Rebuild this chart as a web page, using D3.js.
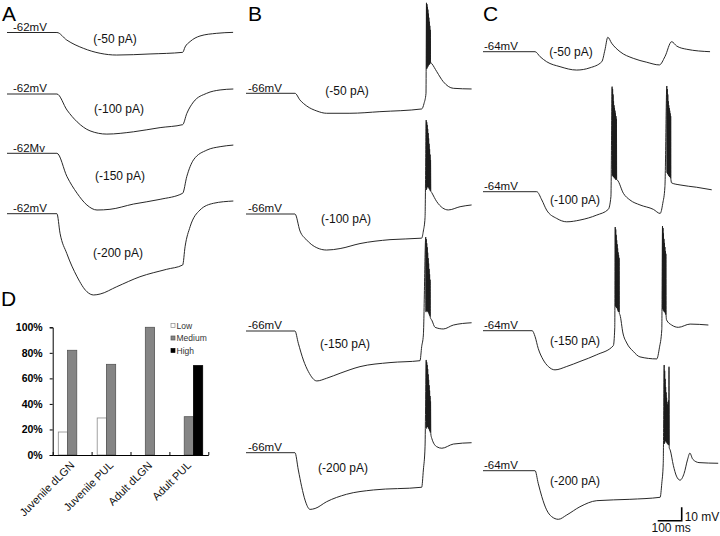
<!DOCTYPE html>
<html>
<head>
<meta charset="utf-8">
<script src="https://cdn.jsdelivr.net/npm/d3@7"></script>
<style>
  body { margin: 0; background: #fff; }
  svg { display: block; font-family: "Liberation Sans", Arial, sans-serif; }
  .trace { fill: none; stroke: #1c1c1c; stroke-width: 0.95; stroke-linejoin: round; }
  .lbl { font-size: 12px; fill: #111; }
  .letter { font-size: 21px; fill: #000; }
  .axis path, .axis line { stroke: #000; }
</style>
</head>
<body>
<svg id="fig" width="720" height="536"></svg>
<script>
// recordings, points are [time (ms), membrane potential (mV)]
// A: -62 mV cell
var a50 = [[0,-62],[208,-62],[249,-67.6],[318,-73.7],[388,-77.4],[457,-78.7],[596,-77.9],[732,-76.7],
  [742,-72.7],[763,-68.7],[804,-64.6],[874,-62.6],[942,-61.9]];
var a100 = [[0,-62],[208,-62],[250,-73.9],[292,-82.6],[346,-89.3],[416,-91.7],[527,-90],[638,-86.9],[732,-84.7],
  [749,-76.5],[777,-67.9],[832,-61.5],[888,-59],[943,-58.3]];
var a150 = [[0,-62],[208,-62],[250,-79.3],[292,-91.6],[333,-100.3],[375,-104],[429,-103.5],[527,-99.6],[638,-96.1],
  [732,-91.6],[749,-79.3],[777,-66.9],[833,-59.6],[888,-57.1],[943,-55.9]];
var a200 = [[0,-62],[208,-62],[221,-76.5],[249,-91.4],[292,-108.7],[333,-119.8],[361,-122.2],[388,-121.5],[457,-116.1],
  [554,-108.7],[665,-103.2],[732,-100],[742,-86.4],[763,-71.6],[804,-59.3],[860,-54.3],[943,-52.6]];

// B: -66 mV cell, rebound burst after the step
var b50 = [[0,-66],[204,-66],[225,-71],[253,-75.4],[295,-79.1],[336,-80.8],[433,-80.8],[558,-79.6],[732,-77.6],
  [742,-73.4],[750,-66],
  [752,1],[753,-48],[754,0],[755,-47],[756,-2],[757,-46],[758,-4],[759,-46],[760,-7],[761,-45],[762,-10],[763,-45],
  [764,-13],[765,-44],[766,-16],[767,-44],[768,-19],[769,-43],
  [774,-44],[795,-50],[822,-57.4],[864,-62.3],[940,-62.8]];
var b100 = [[0,-66],[204,-66],[225,-78.6],[253,-85.3],[295,-91],[336,-92.7],[392,-91.6],[475,-87.9],[600,-85],[732,-83.9],
  [739,-78.6],[746,-68.7],
  [751,3.6],[752,-48],[753,2],[754,-47],[755,0],[756,-46],[757,-3],[758,-46],[759,-6],[760,-46],[761,-10],[762,-47],
  [763,-14],[764,-47],[765,-18],[766,-48],[767,-22],[768,-49],[769,-26],[770,-49],
  [774,-50.2],[795,-56.9],[843,-63],[892,-60.6],[940,-59.3]];
var b150 = [[0,-66],[204,-66],[218,-75.1],[239,-87.5],[260,-96.1],[295,-103],[336,-101],[392,-97.3],[475,-92.4],[600,-89.4],
  [725,-88],[732,-77.6],[739,-69],
  [749,3.6],[750,-52],[751,2],[752,-51],[753,-1],[754,-51],[755,-4],[756,-51],[757,-8],[758,-52],[759,-12],[760,-52],
  [761,-16],[762,-53],[763,-20],[764,-54],[765,-24],[766,-55],[767,-28],[768,-56],
  [774,-57.9],[788,-63.3],[822,-64.5],[864,-61.6],[940,-59.9]];
var b200 = [[0,-66],[204,-66],[218,-78.8],[232,-91.2],[246,-101.1],[267,-108],[288,-107.3],[336,-102.3],[419,-96.8],[531,-93.6],
  [732,-91.6],[739,-78.8],[746,-61.6],
  [751,2.7],[752,-48],[753,1],[754,-47],[755,-1],[756,-47],[757,-4],[758,-47],[759,-8],[760,-48],[761,-12],[762,-48],
  [763,-16],[764,-49],[765,-20],[766,-50],[767,-24],[768,-51],[769,-28],[770,-52],
  [774,-55.3],[795,-61.6],[816,-62.7],[864,-59.6],[940,-58.6]];

// C: -64 mV cell, bursts during and after the step
var c50 = [[0,-64],[217,-64],[238,-67.7],[265,-71.4],[321,-75.1],[390,-77.6],[446,-75.9],[495,-71.4],[508,-62.8],[520,-53.3],
  [536,-57.7],[571,-64],[626,-68.9],[682,-71.8],[735,-73.8],[758,-67.7],[786,-56.6],[807,-59.8],[849,-62.2],[946,-64]];
var c100 = [[0,-64],[224,-64],[245,-70.1],[265,-77.6],[307,-83.8],[349,-86.3],[404,-85],[474,-81.3],[522,-77.1],[533,-67.7],
  [538,13.8],[539,-52],[540,12],[541,-52],[542,8],[543,-53],[544,3],[545,-53],[546,0],[547,-54],
  [548,-2],[549,-54],[550,-4],[551,-54],[552,-6],[553,-55],[554,-8],[555,-55],[556,-10],[557,-55],
  [560,-55.4],[585,-65.2],[612,-70.1],[654,-73.8],[710,-77.1],[738,-80.1],[749,-72.7],[758,-60.3],
  [766,14.3],[767,-50],[768,12],[769,-51],[770,8],[771,-51],[772,3],[773,-52],[774,0],[775,-52],
  [776,-2],[777,-53],[778,-4],[779,-53],[780,-6],[781,-54],[782,-8],[783,-55],
  [786,-57.5],[821,-59],[890,-60.7],[953,-62.6]];
var c150 = [[0,-64],[205,-64],[217,-68.4],[230,-77.1],[251,-85.6],[272,-90.5],[300,-93],[349,-90.5],[404,-86.8],[474,-81.8],
  [543,-75.1],[549,-62],
  [551,12.8],[552,-46],[553,11],[554,-46],[555,7],[556,-47],[557,3],[558,-47],[559,0],[560,-48],
  [561,-3],[562,-49],[563,-6],[564,-50],[565,-8],[566,-50],[567,-10],[568,-51],
  [571,-52.4],[583,-65.7],[599,-73.1],[626,-79.3],[654,-83.4],[724,-84.9],[735,-76.7],[745,-63],
  [748,13.5],[749,-48],[750,12],[751,-49],[752,8],[753,-49],[754,4],[755,-50],[756,1],[757,-50],
  [758,-2],[759,-51],[760,-5],[761,-52],[762,-7],[763,-53],
  [765,-56.1],[786,-59.8],[814,-61.5],[863,-59.1],[939,-59.8]];
var c200 = [[0,-64],[217,-64],[230,-73.3],[245,-83.2],[265,-93],[286,-98],[314,-100],[349,-96.8],[404,-90.7],[474,-86.2],
  [612,-85.2],[738,-83.7],[745,-73.3],[751,-58.5],
  [755,14.3],[756,-44],[757,10],[758,-43],[759,4],[760,-42],[761,-2],[762,-42],[763,-6],[764,-43],[765,-10],[766,-43],
  [767,-13],[768,-44],[769,-15],[770,-44],[771,-17],[772,-45],[773,-12],[774,-45],[775,13],[776,-47],
  [780,-48.7],[793,-60],[806,-68],[821,-71],[838,-66],[852,-56],[862,-51],[874,-55.5],[900,-58],[980,-58.5]];

var currents = ["(-50 pA)", "(-100 pA)", "(-150 pA)", "(-200 pA)"];

// D: firing class proportions (%)
var categories = ["Juvenile dLGN", "Juvenile PUL", "Adult dLGN", "Adult PUL"];
var classes = ["Low", "Medium", "High"];
var lowPct = [18, 29, 0, 0];
var mediumPct = [82, 71, 100, 30];
var highPct = [0, 0, 0, 70];
var pctTicks = [0, 20, 40, 60, 80, 100];

// drawing
var pxPerMs = 0.24, pxPerMv = 1.35;

var panels = [
  { letter: "A", lx: 2, x0: 7, rest: -62, traces: [a50, a100, a150, a200],
    restText: ["-62mV", "-62mV", "-62Mv", "-62mV"], restX: 13,
    base: [32.5, 94, 153.3, 213.7],
    curPos: [[115, 43], [119, 113], [120, 180], [118, 257]] },
  { letter: "B", lx: 248, x0: 246, rest: -66, traces: [b50, b100, b150, b200],
    restText: ["-66mV", "-66mV", "-66mV", "-66mV"], restX: 248,
    base: [93.3, 214, 331, 452.7],
    curPos: [[347, 95], [346, 222.5], [345, 347.5], [343, 472]] },
  { letter: "C", lx: 483, x0: 483, rest: -64, traces: [c50, c100, c150, c200],
    restText: ["-64mV", "-64mV", "-64mV", "-64mV"], restX: 484,
    base: [51.7, 191.7, 330.7, 470.7],
    curPos: [[571, 56], [575, 204], [575, 344.5], [575, 485]] }
];

var svg = d3.select("#fig");

panels.forEach(function(p) {
  svg.append("text").attr("class", "letter").attr("x", p.lx).attr("y", 21).text(p.letter);

  var x = d3.scaleLinear().domain([0, 100]).range([p.x0, p.x0 + 100 * pxPerMs]);

  p.traces.forEach(function(tr, i) {
    var base = p.base[i];
    var y = d3.scaleLinear().domain([p.rest, p.rest - 10]).range([base, base + 10 * pxPerMv]);
    var line = d3.line()
      .x(function(d) { return x(d[0]); })
      .y(function(d) { return y(d[1]); })
      .curve(d3.curveMonotoneX);

    svg.append("path").attr("class", "trace").attr("d", line(tr));

    svg.append("text").attr("class", "lbl").style("font-size", "11.5px")
      .attr("x", p.restX).attr("y", y(p.rest) - 1.8).text(p.restText[i]);
    svg.append("text").attr("class", "lbl").attr("text-anchor", "middle")
      .attr("x", p.curPos[i][0]).attr("y", p.curPos[i][1]).text(currents[i]);
  });
});

// scale bar, 100 ms / 10 mV
var sbx = d3.scaleLinear().domain([0, 100]).range([657.7, 657.7 + 100 * pxPerMs]);
var sby = d3.scaleLinear().domain([0, 10]).range([520.7, 520.7 - 10 * pxPerMv]);
svg.append("path").attr("fill", "none").attr("stroke", "#000").attr("stroke-width", 1.6)
  .attr("d", "M" + sbx(0) + "," + sby(0) + "H" + sbx(100) + "V" + sby(10));
svg.append("text").attr("class", "lbl").attr("x", sbx(100) + 3).attr("y", 520.5).text("10 mV");
svg.append("text").attr("class", "lbl").attr("x", 651.5).attr("y", 532).text("100 ms");

// panel D bar chart
svg.append("text").attr("class", "letter").attr("x", 1).attr("y", 306).text("D");

var xD = d3.scaleBand().domain(categories).range([52.7, 208.3]).padding(0);
var xSub = d3.scaleBand().domain(classes).range([5.6, xD.bandwidth() - 5.6]).padding(0);
var yD = d3.scaleLinear().domain([0, 100]).range([455, 327.3]);

var colors = { Low: "#fff", Medium: "#858585", High: "#000" };
var strokes = { Low: "#8a8a8a", Medium: "#555", High: "#000" };

var rows = [];
categories.forEach(function(c, i) {
  rows.push({ cat: c, cls: "Low", v: lowPct[i] });
  rows.push({ cat: c, cls: "Medium", v: mediumPct[i] });
  rows.push({ cat: c, cls: "High", v: highPct[i] });
});

svg.append("g").selectAll("rect")
  .data(rows.filter(function(d) { return d.v > 0; }))
  .enter().append("rect")
  .attr("x", function(d) { return xD(d.cat) + xSub(d.cls); })
  .attr("y", function(d) { return yD(d.v); })
  .attr("width", xSub.bandwidth())
  .attr("height", function(d) { return yD(0) - yD(d.v); })
  .attr("fill", function(d) { return colors[d.cls]; })
  .attr("stroke", function(d) { return strokes[d.cls]; })
  .attr("stroke-width", 0.8);

var yAxis = svg.append("g").attr("class", "axis")
  .attr("transform", "translate(52.7,0)")
  .call(d3.axisLeft(yD).tickValues(pctTicks).tickSize(3).tickPadding(7)
    .tickFormat(function(d) { return d + "%"; }));
yAxis.selectAll("text").style("font-size", "10.5px").style("font-weight", "bold").attr("fill", "#000");

// x axis line with ticks at the group boundaries
var xEdge = d3.scaleLinear().domain([0, categories.length]).range([52.7, 208.3]);
svg.append("g").attr("class", "axis")
  .attr("transform", "translate(0,455)")
  .call(d3.axisBottom(xEdge).tickValues(d3.range(categories.length + 1)).tickSizeInner(-3).tickSizeOuter(0)
    .tickFormat(""));

svg.append("g").selectAll("text")
  .data(categories)
  .enter().append("text")
  .attr("text-anchor", "end")
  .style("font-size", "11px")
  .attr("fill", "#111")
  .attr("transform", function(d) {
    return "translate(" + (xD(d) + xD.bandwidth() / 2 + 3) + ",466) rotate(-45)";
  })
  .text(function(d) { return d; });

// legend
var leg = svg.append("g").selectAll("g").data(classes).enter().append("g")
  .attr("transform", function(d, i) { return "translate(171," + (325.5 + i * 12.5) + ")"; });
leg.append("rect").attr("x", 0).attr("y", -2).attr("width", 4).attr("height", 4)
  .attr("fill", function(d) { return colors[d]; })
  .attr("stroke", function(d) { return strokes[d]; }).attr("stroke-width", 0.7);
leg.append("text").attr("x", 5.5).attr("y", 3).style("font-size", "8.5px").attr("fill", "#333")
  .text(function(d) { return d; });
</script>
</body>
</html>
